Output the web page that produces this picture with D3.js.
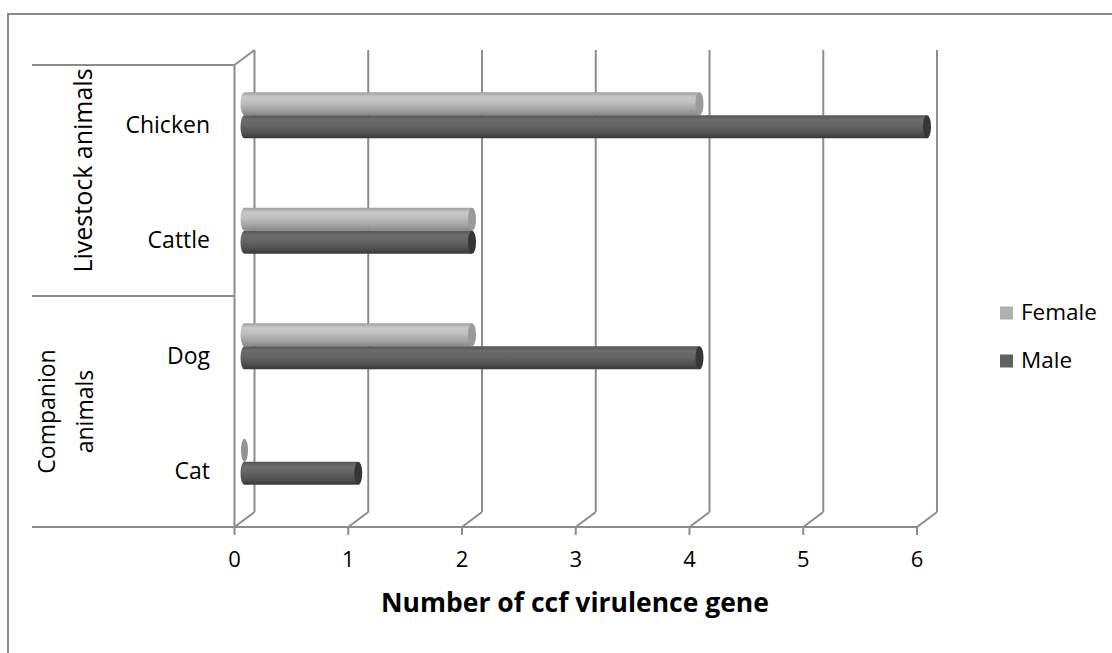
<!DOCTYPE html>
<html><head><meta charset="utf-8">
<script src="https://cdn.jsdelivr.net/npm/d3@7/dist/d3.min.js"></script>
<style>body{margin:0;background:#fff}svg{display:block}text{font-family:"Open Sans",sans-serif;fill:#000}</style>
</head><body><svg id="c" width="1112" height="653"></svg>
<script>
const categories = ["Chicken","Cattle","Dog","Cat"];
const groupNames = [["Livestock animals"],["Companion","animals"]];
const groupCats = [["Chicken","Cattle"],["Dog","Cat"]];
const series = ["Female","Male"];
const femaleValues = [4,2,2,0];
const maleValues = [6,2,4,1];
const xTicks = [0,1,2,3,4,5,6];
const axisTitle = "Number of ccf virulence gene";

const svg = d3.select("#c");
const grid = "#8c8c8c";
const dx = 20, dy = -15;
const x = d3.scaleLinear().domain([0,6]).range([234.5,917]);
const y = d3.scaleBand().domain(categories).range([65,527]);
const inner = d3.scaleBand().domain(series).range([-23,23]);

// outer border
svg.append("path").attr("d","M8,653 V14 H1112").attr("fill","none").attr("stroke","#8a8a8a").attr("stroke-width",2);

const defs = svg.append("defs");
function grad(id, stops){
  const g = defs.append("linearGradient").attr("id",id).attr("x1",0).attr("y1",0).attr("x2",0).attr("y2",1);
  stops.forEach(s=>g.append("stop").attr("offset",s[0]).attr("stop-color",s[1]));
}
grad("gF",[[0,"#a0a0a0"],[0.2,"#c8c8c8"],[0.45,"#bebebe"],[0.75,"#a4a4a4"],[1,"#868686"]]);
grad("gM",[[0,"#555"],[0.2,"#6c6c6c"],[0.45,"#656565"],[0.75,"#525252"],[1,"#383838"]]);

// back gridlines
svg.append("g").selectAll("line").data(xTicks).join("line")
  .attr("x1",d=>x(d)+dx).attr("x2",d=>x(d)+dx).attr("y1",y.range()[0]+dy).attr("y2",y.range()[1]+dy)
  .attr("stroke",grid).attr("stroke-width",2);
// floor diagonals
svg.append("g").selectAll("line").data(xTicks).join("line")
  .attr("x1",d=>x(d)).attr("x2",d=>x(d)+dx).attr("y1",y.range()[1]).attr("y2",y.range()[1]+dy)
  .attr("stroke",grid).attr("stroke-width",2);
// ticks
svg.append("g").selectAll("line").data(xTicks).join("line")
  .attr("x1",d=>x(d)).attr("x2",d=>x(d)).attr("y1",y.range()[1]).attr("y2",y.range()[1]+8)
  .attr("stroke",grid).attr("stroke-width",2);
// left wall + top diagonal
svg.append("line").attr("x1",x(0)).attr("x2",x(0)).attr("y1",y.range()[0]).attr("y2",y.range()[1]).attr("stroke",grid).attr("stroke-width",2);
svg.append("line").attr("x1",x(0)).attr("x2",x(0)+dx).attr("y1",y.range()[0]).attr("y2",y.range()[0]+dy).attr("stroke",grid).attr("stroke-width",2);
// category group separators
const sepY = groupCats.map(g=>y(g[0]));
svg.append("g").selectAll("line").data(sepY).join("line")
  .attr("x1",32).attr("x2",x(0)).attr("y1",d=>d).attr("y2",d=>d).attr("stroke",grid).attr("stroke-width",2);
svg.append("line").attr("x1",32).attr("x2",x(6)).attr("y1",y.range()[1]).attr("y2",y.range()[1]).attr("stroke",grid).attr("stroke-width",2);

// bars
const data = [];
categories.forEach((c,i)=>{ data.push({c,s:"Female",v:femaleValues[i]}); data.push({c,s:"Male",v:maleValues[i]}); });
const bars = svg.append("g");
const rx = 4;
data.forEach(d=>{
  const cy = y(d.c)+y.bandwidth()/2 + dy/2;
  const top = cy + inner(d.s), h = inner.bandwidth();
  const x0 = x(0)+dx/2, x1 = x(d.v)+dx/2;
  const fill = d.s==="Female" ? "url(#gF)" : "url(#gM)";
  const cap = d.s==="Female" ? "#9a9a9a" : "#363636";
  if (d.v === 0) {
    bars.append("ellipse").attr("cx",x0).attr("cy",top+h/2).attr("rx",3.5).attr("ry",h/2).attr("fill","#939393");
    return;
  }
  bars.append("path")
    .attr("d",`M${x0},${top} H${x1} V${top+h} H${x0} A${rx},${h/2} 0 0 1 ${x0},${top} Z`)
    .attr("fill",fill);
  bars.append("ellipse").attr("cx",x1).attr("cy",top+h/2).attr("rx",rx).attr("ry",h/2).attr("fill",cap);
});

// category labels
svg.append("g").selectAll("text").data(categories).join("text")
  .attr("x",210).attr("y",d=>y(d)+y.bandwidth()/2+4).attr("text-anchor","end").attr("dominant-baseline","middle")
  .attr("font-size",23).text(d=>d);
// group labels
svg.append("text").attr("transform",`translate(85,${(y(groupCats[0][0])+y(groupCats[0][1])+y.bandwidth())/2-10}) rotate(-90)`)
  .attr("text-anchor","middle").attr("dominant-baseline","middle").attr("font-size",25).text(groupNames[0][0]);
const cy2 = (y(groupCats[1][0])+y(groupCats[1][1])+y.bandwidth())/2;
groupNames[1].forEach((n,i)=>{
  svg.append("text").attr("transform",`translate(${i===0?49:87},${cy2}) rotate(-90)`)
    .attr("text-anchor","middle").attr("dominant-baseline","middle").attr("font-size",23).text(n);
});

// x tick labels
svg.append("g").selectAll("text").data(xTicks).join("text")
  .attr("x",d=>x(d)).attr("y",561).attr("text-anchor","middle").attr("dominant-baseline","middle")
  .attr("font-size",22).text(d=>d);
svg.append("text").attr("x",575).attr("y",605).attr("text-anchor","middle").attr("dominant-baseline","middle")
  .attr("font-size",26.5).attr("font-weight","bold").text(axisTitle);

// legend
const lg = svg.append("g");
series.forEach((s,i)=>{
  const yy = 313 + i*48;
  lg.append("rect").attr("x",1000).attr("y",yy-6.5).attr("width",13).attr("height",13).attr("fill",i===0?"#b0b0b0":"#616161");
  lg.append("text").attr("x",1021).attr("y",yy+1).attr("dominant-baseline","middle").attr("font-size",22.5).text(s);
});
</script></body></html>
